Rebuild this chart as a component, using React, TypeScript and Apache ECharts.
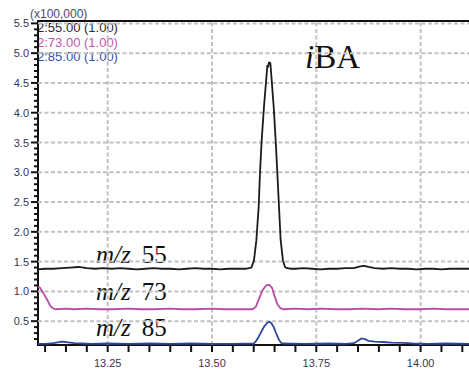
import React, { useEffect, useRef } from "react";
import * as echarts from "echarts";

// ---- data ----
const xMin = 13.083;
const xMax = 14.116;
const yMin = 0.1;
const yMax = 5.54;

const xLabelTicks = [13.25, 13.5, 13.75, 14.0];
const xMinorTicks = [13.1, 13.15, 13.2, 13.25, 13.3, 13.35, 13.4, 13.45, 13.5, 13.55, 13.6, 13.65, 13.7, 13.75, 13.8, 13.85, 13.9, 13.95, 14.0, 14.05, 14.1];
const yLabelTicks = [0.5, 1.0, 1.5, 2.0, 2.5, 3.0, 3.5, 4.0, 4.5, 5.0, 5.5];
const yMinorTicks = [0.2, 0.3, 0.4, 0.6, 0.7, 0.8, 0.9, 1.1, 1.2, 1.3, 1.4, 1.6, 1.7, 1.8, 1.9, 2.1, 2.2, 2.3, 2.4, 2.6, 2.7, 2.8, 2.9, 3.1, 3.2, 3.3, 3.4, 3.6, 3.7, 3.8, 3.9, 4.1, 4.2, 4.3, 4.4, 4.6, 4.7, 4.8, 4.9, 5.1, 5.2, 5.3, 5.4];

// m/z 55 (black)
const times55 = [13.083, 13.1, 13.12, 13.14, 13.16, 13.18, 13.2, 13.22, 13.24, 13.26, 13.28, 13.3, 13.32, 13.34, 13.36, 13.38, 13.4, 13.42, 13.44, 13.46, 13.48, 13.5, 13.52, 13.54, 13.56, 13.58, 13.5944, 13.6006, 13.6064, 13.6119, 13.615, 13.6191, 13.6246, 13.6328, 13.6345, 13.6366, 13.64, 13.6479, 13.6526, 13.6567, 13.6606, 13.6646, 13.6701, 13.675, 13.6797, 13.69, 13.7, 13.72, 13.74, 13.76, 13.78, 13.8, 13.82, 13.84, 13.855, 13.865, 13.875, 13.89, 13.91, 13.93, 13.95, 13.97, 13.99, 14.01, 14.03, 14.05, 14.07, 14.09, 14.116];
const values55 = [1.37, 1.38, 1.38, 1.39, 1.4, 1.41, 1.39, 1.38, 1.39, 1.38, 1.39, 1.38, 1.37, 1.38, 1.39, 1.38, 1.38, 1.37, 1.38, 1.39, 1.38, 1.38, 1.37, 1.38, 1.38, 1.38, 1.4, 1.52, 1.86, 2.42, 2.98, 3.54, 4.1, 4.8, 4.76, 4.85, 4.83, 4.1, 3.54, 2.98, 2.42, 1.86, 1.52, 1.41, 1.39, 1.38, 1.38, 1.39, 1.38, 1.37, 1.38, 1.38, 1.39, 1.39, 1.42, 1.43, 1.41, 1.39, 1.38, 1.39, 1.38, 1.38, 1.37, 1.38, 1.38, 1.37, 1.38, 1.38, 1.38];

// m/z 73 (magenta)
const times73 = [13.083, 13.088, 13.095, 13.105, 13.112, 13.118, 13.125, 13.15, 13.17, 13.2, 13.23, 13.26, 13.3, 13.33, 13.36, 13.4, 13.43, 13.46, 13.5, 13.53, 13.56, 13.598, 13.605, 13.614, 13.622, 13.63, 13.637, 13.644, 13.65, 13.657, 13.664, 13.67, 13.7, 13.73, 13.76, 13.8, 13.83, 13.86, 13.9, 13.93, 13.96, 14.0, 14.03, 14.06, 14.09, 14.116];
const values73 = [1.08, 1.06, 0.98, 0.86, 0.76, 0.72, 0.7, 0.71, 0.7, 0.71, 0.7, 0.7, 0.71, 0.7, 0.7, 0.71, 0.7, 0.7, 0.71, 0.7, 0.7, 0.7, 0.74, 0.9, 1.03, 1.1, 1.115, 1.06, 0.92, 0.78, 0.72, 0.7, 0.71, 0.7, 0.71, 0.7, 0.7, 0.71, 0.7, 0.71, 0.7, 0.7, 0.71, 0.7, 0.7, 0.7];

// m/z 85 (blue)
const times85 = [13.083, 13.1, 13.12, 13.13, 13.14, 13.15, 13.16, 13.17, 13.19, 13.21, 13.25, 13.3, 13.35, 13.4, 13.45, 13.5, 13.55, 13.6, 13.606, 13.612, 13.618, 13.625, 13.632, 13.637, 13.642, 13.648, 13.653, 13.659, 13.665, 13.67, 13.72, 13.78, 13.82, 13.84, 13.85, 13.858, 13.866, 13.875, 13.89, 13.91, 13.93, 13.96, 13.98, 14.02, 14.06, 14.116];
const values85 = [0.12, 0.12, 0.13, 0.145, 0.155, 0.15, 0.14, 0.13, 0.125, 0.12, 0.125, 0.12, 0.125, 0.12, 0.125, 0.12, 0.12, 0.125, 0.17, 0.24, 0.32, 0.41, 0.47, 0.49, 0.47, 0.4, 0.31, 0.21, 0.14, 0.125, 0.12, 0.125, 0.12, 0.13, 0.17, 0.21, 0.2, 0.17, 0.155, 0.15, 0.14, 0.135, 0.125, 0.12, 0.125, 0.12];

const headerLines = ["2:55.00 (1.00)", "2:73.00 (1.00)", "2:85.00 (1.00)"];
const seriesColors = ["#1c1c1c", "#b84ea4", "#2e46a0"];
const headerColors = ["#2a2a2a", "#c455ae", "#3550b0"];
const traceLabels = ["55", "73", "85"];

const pairs = (t: number[], v: number[]) => t.map((x, i) => [x, v[i]]);

const axisLabelColor = "#3a3550";
const gridColor = "#c0c0c0";
const axisColor = "#111111";

export default function App() {
  const ref = useRef<HTMLDivElement>(null);
  useEffect(() => {
    if (!ref.current) return;
    const chart = echarts.init(ref.current, undefined, { renderer: "svg" });
    const serif = "'Liberation Serif', 'Times New Roman', serif";
    const sans = "'Liberation Sans', Arial, sans-serif";
    const traceY = [254.5, 291, 327.8];

    // grid lines and ticks, placed through the axes' scales
    const vGrid = (params: any, api: any) => {
      const a = api.coord([api.value(0), yMin]);
      const b = api.coord([api.value(0), yMax]);
      return { type: "line", shape: { x1: a[0], y1: a[1], x2: b[0], y2: b[1] }, style: { stroke: gridColor, lineWidth: 2, lineDash: [4, 2.5] } };
    };
    const hGrid = (params: any, api: any) => {
      const a = api.coord([xMin, api.value(1)]);
      const b = api.coord([xMax, api.value(1)]);
      return { type: "line", shape: { x1: a[0], y1: a[1], x2: b[0], y2: b[1] }, style: { stroke: gridColor, lineWidth: 2, lineDash: [4, 2.5] } };
    };
    const xTick = (params: any, api: any) => {
      const a = api.coord([api.value(0), yMin]);
      return { type: "line", shape: { x1: a[0], y1: a[1], x2: a[0], y2: a[1] + 7 }, style: { stroke: axisColor, lineWidth: 2 } };
    };
    const yTick = (len: number) => (params: any, api: any) => {
      const a = api.coord([xMin, api.value(1)]);
      return { type: "line", shape: { x1: a[0] - len, y1: a[1], x2: a[0], y2: a[1] }, style: { stroke: axisColor, lineWidth: 2 } };
    };

    const option: any = {
      animation: false,
      backgroundColor: "#ffffff",
      grid: { left: 38, right: 0, top: 21, bottom: 31, containLabel: false },
      xAxis: [
        {
          type: "value",
          position: "bottom",
          min: xMin,
          max: xMax,
          axisLine: { show: true, onZero: false, lineStyle: { color: axisColor, width: 2 } },
          axisTick: { show: false },
          axisLabel: {
            customValues: xLabelTicks,
            formatter: (v: number) => v.toFixed(2),
            color: axisLabelColor,
            fontFamily: sans,
            fontSize: 11,
            margin: 12,
          },
          splitLine: { show: false },
          minorSplitLine: { show: false },
        },
        {
          type: "value",
          position: "top",
          min: xMin,
          max: xMax,
          axisLine: { show: true, onZero: false, lineStyle: { color: axisColor, width: 2 } },
          axisTick: { show: false },
          axisLabel: { show: false },
          splitLine: { show: false },
          minorSplitLine: { show: false },
        },
      ],
      yAxis: [
        {
          type: "value",
          position: "left",
          min: yMin,
          max: yMax,
          axisLine: { show: true, onZero: false, lineStyle: { color: axisColor, width: 2 } },
          axisTick: { show: false },
          axisLabel: {
            customValues: yLabelTicks,
            formatter: (v: number) => v.toFixed(1),
            color: axisLabelColor,
            fontFamily: sans,
            fontSize: 11,
            margin: 9,
          },
          splitLine: { show: false },
          minorSplitLine: { show: false },
        },
      ],
      series: [
        { type: "custom", xAxisIndex: 0, yAxisIndex: 0, silent: true, clip: false, z: 1, renderItem: vGrid, data: xLabelTicks.map((v) => [v, yMin]) },
        { type: "custom", xAxisIndex: 0, yAxisIndex: 0, silent: true, clip: false, z: 1, renderItem: hGrid, data: yLabelTicks.map((v) => [xMin, v]) },
        { type: "custom", xAxisIndex: 0, yAxisIndex: 0, silent: true, clip: false, z: 10, renderItem: xTick, data: xMinorTicks.map((v) => [v, yMin]) },
        { type: "custom", xAxisIndex: 0, yAxisIndex: 0, silent: true, clip: false, z: 10, renderItem: yTick(7), data: yLabelTicks.map((v) => [xMin, v]) },
        { type: "custom", xAxisIndex: 0, yAxisIndex: 0, silent: true, clip: false, z: 10, renderItem: yTick(4), data: yMinorTicks.map((v) => [xMin, v]) },
        { type: "line", xAxisIndex: 0, yAxisIndex: 0, data: pairs(times55, values55), showSymbol: false, symbol: "none", lineStyle: { color: seriesColors[0], width: 1.8 }, z: 5 },
        { type: "line", xAxisIndex: 0, yAxisIndex: 0, data: pairs(times73, values73), showSymbol: false, symbol: "none", lineStyle: { color: seriesColors[1], width: 1.8 }, z: 4 },
        { type: "line", xAxisIndex: 0, yAxisIndex: 0, data: pairs(times85, values85), showSymbol: false, symbol: "none", lineStyle: { color: seriesColors[2], width: 1.8 }, z: 3 },
      ],
      graphic: [
        {
          type: "text",
          x: 30,
          y: 14,
          style: { text: "(x100,000)", font: `12px ${sans}`, fill: "#4c4a68", verticalAlign: "middle" },
        },
        ...headerLines.map((t, i) => ({
          type: "text",
          x: 37,
          y: [27.5, 42.5, 56.5][i],
          style: { text: t, font: `13px ${sans}`, fill: headerColors[i], verticalAlign: "middle" },
        })),
        {
          type: "text",
          x: 305,
          y: 56.8,
          style: {
            text: "{i|i}{n|BA}",
            verticalAlign: "middle",
            fill: "#111",
            rich: {
              i: { fontFamily: serif, fontSize: 33, fontStyle: "italic", fill: "#111" },
              n: { fontFamily: serif, fontSize: 33, fill: "#111" },
            },
          },
        },
        ...traceLabels.map((t, i) => ({
          type: "text",
          x: 96,
          y: traceY[i],
          style: {
            text: `{i|m/z}{n|${t}}`,
            verticalAlign: "middle",
            fill: "#111",
            rich: {
              i: { fontFamily: serif, fontSize: 25, fontStyle: "italic", fill: "#111" },
              n: { fontFamily: serif, fontSize: 25, fill: "#111", padding: [0, 0, 0, 11] },
            },
          },
        })),
      ],
    };
    chart.setOption(option);
    return () => chart.dispose();
  }, []);
  return (
    <div
      ref={ref}
      style={{ position: "absolute", left: 0, top: 0, width: 469, height: 376 }}
    />
  );
}
